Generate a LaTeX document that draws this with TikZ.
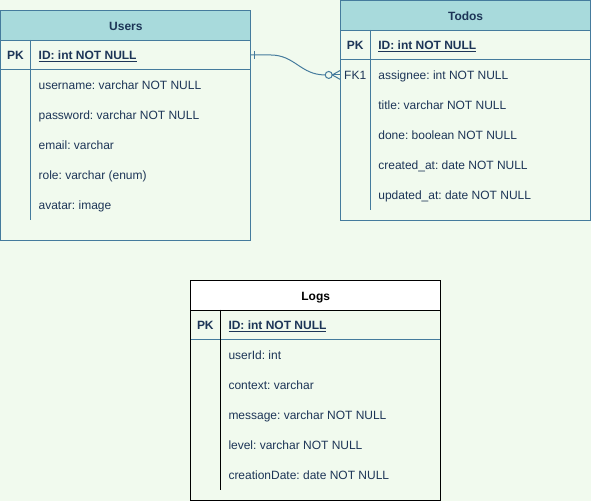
\documentclass[tikz,border=0pt]{standalone}
\usepackage{fontspec}
\setmainfont{Liberation Sans}
\usetikzlibrary{calc,positioning}
\frenchspacing

\definecolor{bgcol}{HTML}{F1FAEE}
\definecolor{headcol}{HTML}{A8DADC}
\definecolor{linecol}{HTML}{457B9D}
\definecolor{textcol}{HTML}{1D3557}

\tikzset{
    tablebox/.style={draw=linecol, line width=1pt, minimum width=250pt, inner sep=0pt, anchor=north west},
    headcell/.style={draw=linecol, fill=headcol, line width=1pt, minimum width=250pt, minimum height=30pt,
        inner sep=0pt, text height=11pt, text depth=0pt, anchor=north west, text=textcol,
        font=\fontsize{12}{14}\selectfont\bfseries},
    keytext/.style={inner sep=0pt, text height=9pt, text depth=3pt, text=textcol,
        font=\fontsize{12}{14}\selectfont},
    fieldtext/.style={inner sep=0pt, anchor=west, text height=9pt, text depth=3pt, text=textcol,
        font=\fontsize{12}{14}\selectfont},
    relline/.style={draw=linecol, line width=1pt},
}

\begin{document}
\begin{tikzpicture}[x=1pt,y=-1pt]
    % Draw background
    \fill[bgcol] (0,0) rectangle (591,501);

    % Users table
    \begin{scope}[shift={(0,10)}]
        \node[tablebox, minimum height=230pt] (users) at (0,0) {};
        \node[headcell] (users-head) at (0,0) {Users};
        \node[keytext, font=\fontsize{12}{14}\selectfont\bfseries] (users-pk) at (15,46.5) {PK};
        \node[fieldtext, font=\fontsize{12}{14}\selectfont\bfseries] (users-id) at (38,46.5) {\underline{ID: int NOT NULL}};
        \draw[linecol, line width=1pt] (0,60) -- (250,60);
        \draw[linecol, line width=1pt] (30,30) -- (30,210);
        \foreach \f [count=\i] in {username: varchar NOT NULL, password: varchar NOT NULL,
            email: varchar, role: varchar (enum), avatar: image} {
            \node[fieldtext] (users-f\i) at (38,{46.5+30*\i}) {\f};
        }
        \coordinate (users-out) at (250,45);
    \end{scope}

    % Todos table
    \begin{scope}[shift={(340,0)}]
        \node[tablebox, minimum height=220pt] (todos) at (0,0) {};
        \node[headcell] (todos-head) at (0,0) {Todos};
        \node[keytext, font=\fontsize{12}{14}\selectfont\bfseries] (todos-pk) at (15,46.5) {PK};
        \node[fieldtext, font=\fontsize{12}{14}\selectfont\bfseries] (todos-id) at (38,46.5) {\underline{ID: int NOT NULL}};
        \node[keytext] (todos-fk) at (15,76.5) {FK1};
        \draw[linecol, line width=1pt] (0,60) -- (250,60);
        \draw[linecol, line width=1pt] (30,30) -- (30,210);
        \foreach \f [count=\i] in {assignee: int NOT NULL, title: varchar NOT NULL,
            done: boolean NOT NULL, created\_at: date NOT NULL, updated\_at: date NOT NULL} {
            \node[fieldtext] (todos-f\i) at (38,{46.5+30*\i}) {\f};
        }
        \coordinate (todos-in) at (0,75);
    \end{scope}

    % Logs table
    \begin{scope}[shift={(190,280)}]
        \node[tablebox, draw=black, minimum height=220pt] (logs) at (0,0) {};
        \node[headcell, draw=black, fill=white, text=black] (logs-head) at (0,0) {Logs};
        \node[keytext, font=\fontsize{12}{14}\selectfont\bfseries] (logs-pk) at (15,46.5) {PK};
        \node[fieldtext, font=\fontsize{12}{14}\selectfont\bfseries] (logs-id) at (38,46.5) {\underline{ID: int NOT NULL}};
        \draw[linecol, line width=1pt] (0.5,60) -- (249.5,60);
        \draw[black, line width=1pt] (30,30) -- (30,210);
        \foreach \f [count=\i] in {userId: int, context: varchar, message: varchar NOT NULL,
            level: varchar NOT NULL, creationDate: date NOT NULL} {
            \node[fieldtext] (logs-f\i) at (38,{46.5+30*\i}) {\f};
        }
    \end{scope}

    % Relation Users -> Todos (one to zero-or-many)
    \draw[relline] (users-out) -- ++(20,0)
        .. controls +(25,0) and +(-25,0) .. ($(todos-in)+(-15,0)$);
    \draw[relline] ($(users-out)+(4,-4)$) -- ++(0,8);
    \draw[relline, fill=bgcol] ($(todos-in)+(-11.5,0)$) circle[radius=3.5];
    \draw[relline] ($(todos-in)+(-8,0)$) -- (todos-in);
    \draw[relline] ($(todos-in)+(0,-4.5)$) -- ($(todos-in)+(-8,0)$) -- ($(todos-in)+(0,4.5)$);
\end{tikzpicture}
\end{document}
